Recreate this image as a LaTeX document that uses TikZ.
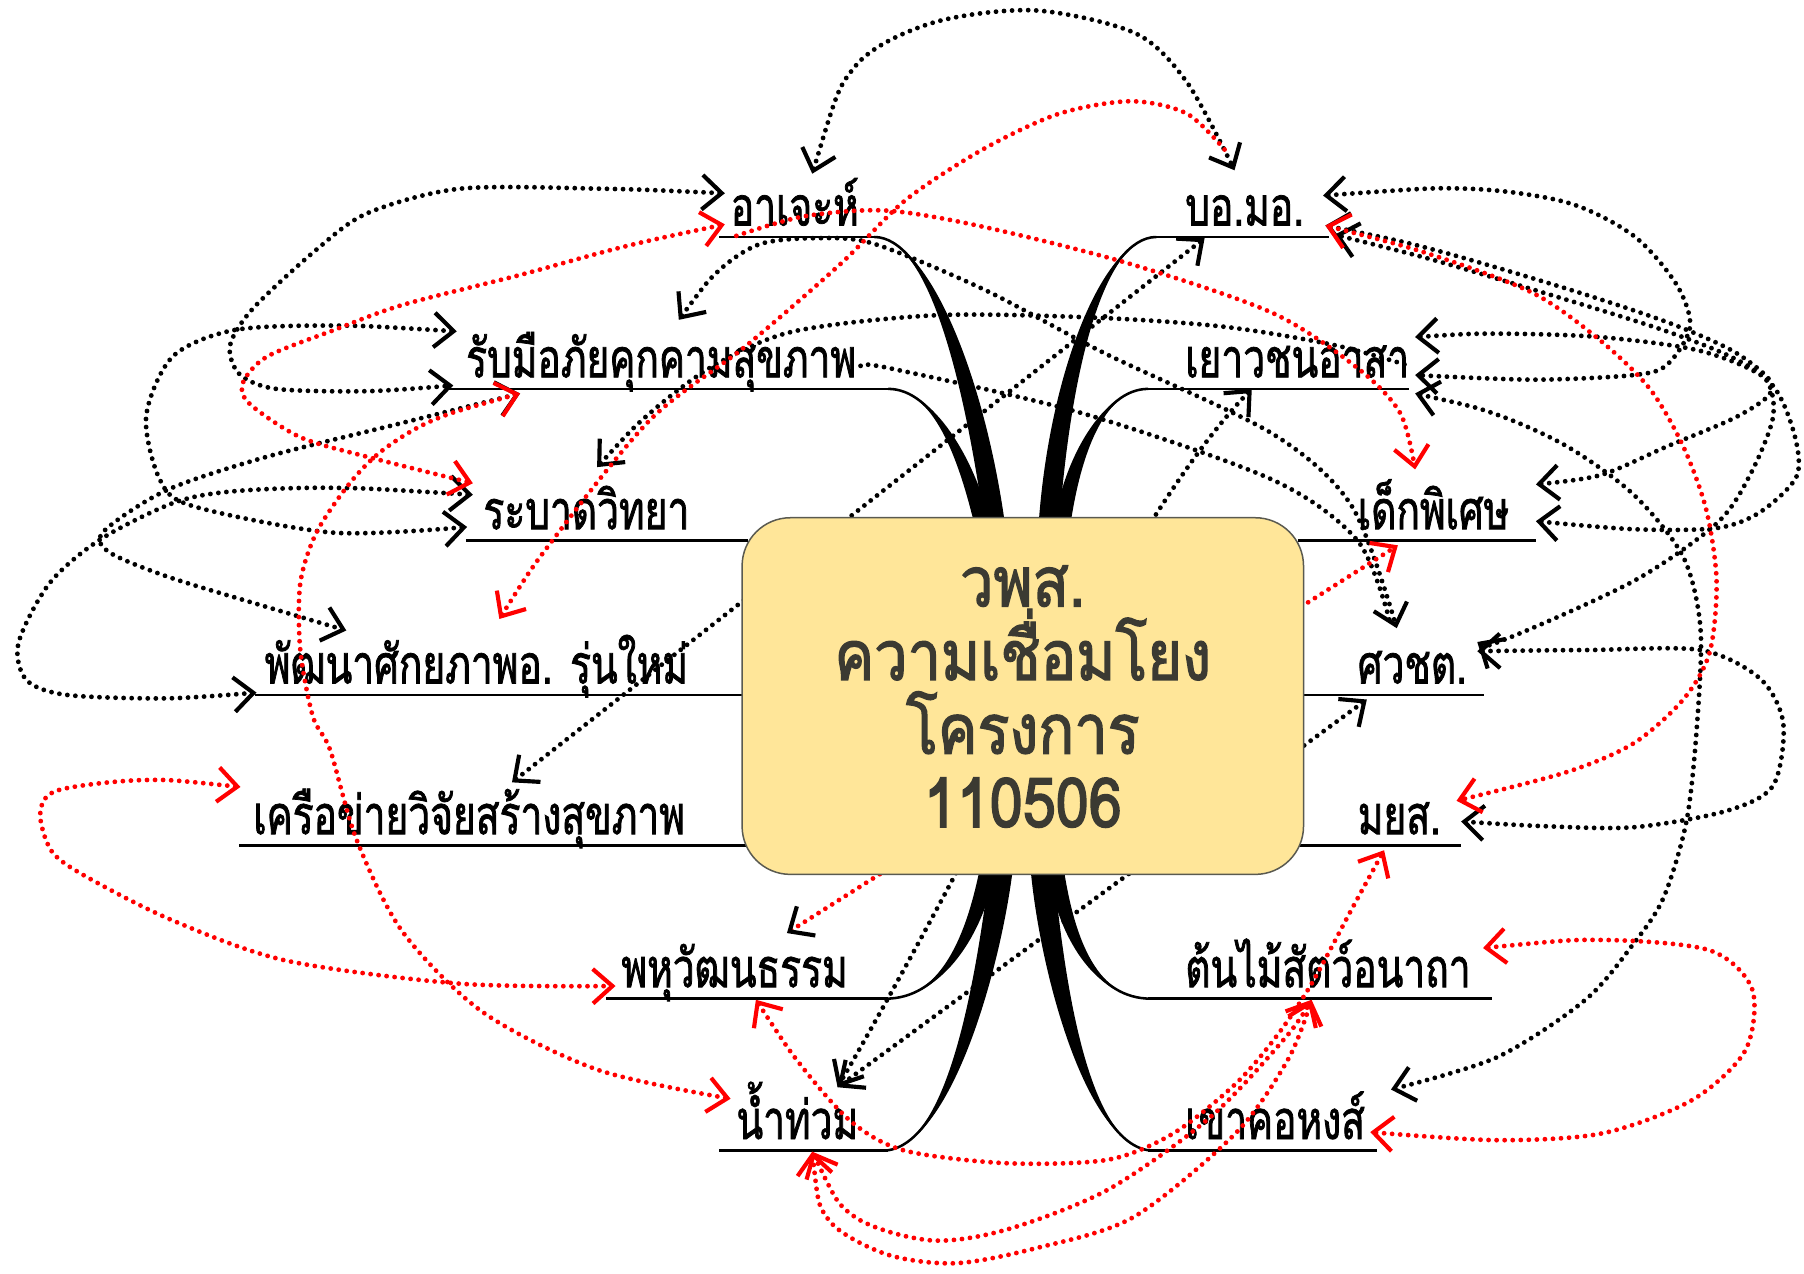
\documentclass[tikz,border=0pt]{standalone}
\usepackage{fontspec}
\usetikzlibrary{arrows.meta,calc}
\newfontfamily\thailab[Script=Thai,FakeStretch=0.72,FakeBold=1.4]{Loma}
\newfontfamily\thaimain[Script=Thai,FakeStretch=0.86,FakeBold=2]{Loma}
\definecolor{boxfill}{HTML}{FFE699}
\definecolor{boxtext}{HTML}{3B3A32}
\definecolor{boxline}{HTML}{5A5A50}
\definecolor{rd}{HTML}{FF0000}
\tikzset{
 lab/.style={anchor=base west, inner sep=0pt, font=\thailab\fontsize{47}{47}\selectfont},
 ctext/.style={anchor=base, inner sep=0pt, text=boxtext, font=\thaimain\fontsize{60}{60}\selectfont},
 ul/.style={line width=2.2pt},
 conn/.style={line width=4.2pt, dash pattern=on 0pt off 7pt, line cap=round},
 bk/.style={conn, black},
 rdc/.style={conn, rd},
 >={Straight Barb[length=17pt,width=30pt,line width=3.6pt]},
}
\newcommand{\branchshape}[5]{%
 \fill[black] #1 .. controls #2 and ($#3+(-#5,0)$) .. ($#4+(-#5,0)$) -- ($#4+(#5,0)$) .. controls ($#3+(#5,0)$) and #2 .. #1 -- cycle;
 \draw[line width=2.2pt] #1 .. controls #2 and #3 .. #4;}
\begin{document}
\begin{tikzpicture}[x=1pt,y=-1pt]
\useasboundingbox[fill=white] (0,0) rectangle (1568,1107);

% ---------- branches and underlines ----------
\branchshape{(760,206)}{(805,206)}{(845,320)}{(864,452)}{9}
\branchshape{(772,338)}{(812,338)}{(840,400)}{(853,452)}{7}
\branchshape{(1005,206)}{(960,206)}{(922,320)}{(912,452)}{9}
\branchshape{(998,338)}{(958,338)}{(932,400)}{(924,452)}{7}
\branchshape{(770,868)}{(815,868)}{(845,820)}{(858,758)}{7}
\branchshape{(770,1000)}{(825,995)}{(858,850)}{(870,758)}{10}
\branchshape{(1000,868)}{(955,868)}{(928,820)}{(918,758)}{7}
\branchshape{(1000,1000)}{(945,995)}{(915,850)}{(906,758)}{10}

\draw[ul] (625,206) -- (762,206);
\draw[ul] (390,338) -- (774,338);
\draw[ul] (405,470) -- (650,470);
\draw[ul] (222,604) -- (650,604);
\draw[ul] (208,735) -- (650,735);
\draw[ul] (527,868) -- (772,868);
\draw[ul] (625,1000) -- (772,1000);
\draw[ul] (1003,206) -- (1155,206);
\draw[ul] (996,338) -- (1225,338);
\draw[ul] (1128,470) -- (1335,470);
\draw[ul] (1128,604) -- (1290,604);
\draw[ul] (1128,735) -- (1270,735);
\draw[ul] (998,868) -- (1297,868);
\draw[ul] (998,1000) -- (1197,1000);

% ---------- labels ----------
\node[lab] (ajeh) at (635,196) {อาเจะห์};
\node[lab] (rabmue) at (405,328) {รับมือภัยคุกคามสุขภาพ};
\node[lab] (rabad) at (420,460) {ระบาดวิทยา};
\node[lab] (pattana) at (230,594) {พัฒนาศักยภาพอ. รุ่นใหม่};
\node[lab] (kruea) at (220,725) {เครือข่ายวิจัยสร้างสุขภาพ};
\node[lab] (pahu) at (540,858) {พหุวัฒนธรรม};
\node[lab] (namtuam) at (640,990) {น้ำท่วม};
\node[lab] (bomo) at (1030,196) {บอ.มอ.};
\node[lab] (yaowa) at (1030,328) {เยาวชนอาสา};
\node[lab] (dek) at (1180,460) {เด็กพิเศษ};
\node[lab] (sawa) at (1180,594) {ศวชต.};
\node[lab] (myos) at (1180,725) {มยส.};
\node[lab] (tonmai) at (1030,858) {ต้นไม้สัตว์อนาถา};
\node[lab] (khao) at (1030,990) {เขาคอหงส์};

% ---------- connector end points ----------
\coordinate (b1a) at (706,151); \coordinate (b1b) at (1073,148);
\coordinate (ajehB) at (630,168); \coordinate (ajehR) at (630,195);
\coordinate (rabA) at (397,288); \coordinate (rabB) at (394,335);
\coordinate (rabC) at (452,342); \coordinate (rabT) at (590,278);
\coordinate (rabE) at (748,318);
\coordinate (rbR) at (411,420); \coordinate (rbA) at (411,430);
\coordinate (rbB) at (406,458); \coordinate (rbT) at (519,406);
\coordinate (ptA) at (301,548); \coordinate (ptB) at (223,602);
\coordinate (ptR) at (434,538);
\coordinate (kwB) at (445,680); \coordinate (kwR) at (209,684);
\coordinate (phB) at (684,811); \coordinate (phR) at (535,857);
\coordinate (phU) at (657,869);
\coordinate (nB) at (728,945); \coordinate (nR) at (635,955);
\coordinate (nU) at (706,1001);
\coordinate (bmA) at (1150,170); \coordinate (bmR) at (1152,196);
\coordinate (bmU) at (1047,207); \coordinate (bmT) at (1067,133);
\coordinate (yA) at (1230,293); \coordinate (yB) at (1230,326);
\coordinate (yC) at (1230,342); \coordinate (yU) at (1088,338);
\coordinate (yE) at (1225,318);
\coordinate (dA) at (1335,421); \coordinate (dB) at (1335,453);
\coordinate (dR) at (1230,408); \coordinate (dU) at (1215,474);
\coordinate (sT) at (1214,546); \coordinate (sA) at (1284,558);
\coordinate (sB) at (1284,566); \coordinate (sU) at (1188,608);
\coordinate (mR) at (1266,696); \coordinate (mB) at (1270,714);
\coordinate (mU) at (1203,739);
\coordinate (tR) at (1289,824); \coordinate (tU) at (1140,869);
\coordinate (kB) at (1209,947); \coordinate (kR) at (1191,984);

% ---------- black connectors ----------
\draw[bk,<->] plot[smooth] coordinates {(b1a) (743,58) (810,20) (899,9) (987,29) (1032,72) (b1b)};
\draw[bk,<->] plot[smooth] coordinates {(ajehB) (521,164) (400,164) (320,185) (275,217) (220,268) (200,300) (208,325) (240,338) (320,340) (rabB)};
\draw[bk,<->] plot[smooth] coordinates {(rabA) (290,283) (203,287) (150,310) (127,362) (139,417) (168,440) (290,463) (rbB)};
\draw[bk,<->] plot[smooth] coordinates {(rbA) (290,424) (203,427) (151,437) (87,469) (43,507) (16,559) (23,591) (58,604) (145,607) (ptB)};
\draw[bk,<->] plot[smooth] coordinates {(rabC) (348,368) (232,397) (145,426) (90,462) (95,480) (145,501) (220,524) (ptA)};
\draw[bk,<->] plot[smooth] coordinates {(rabT) (625,235) (661,212) (710,207) (760,212) (856,252) (960,307) (1106,377) (1175,440) (sT)};
\draw[bk] plot[smooth] coordinates {(rabE) (773,320) (940,359) (1106,417) (1180,470) (1208,540)};
\draw[bk,<-] plot[smooth] coordinates {(rbT) (565,359) (620,318) (690,288) (814,274) (950,276) (1064,284) (1160,300) (yE)};
\draw[bk,<->] (kwB) -- (bmU);
\draw[bk,<->] (yU) .. controls (980,450) and (870,700) .. (nB);
\draw[bk,<->] (sU) -- (nB);
\draw[bk,<->] plot[smooth] coordinates {(bmA) (1275,164) (1362,176) (1420,205) (1457,247) (1469,284) (1449,317) (1420,326) (1333,330) (yB)};
\draw[bk,<->] plot[smooth] coordinates {(bmR) (1246,217) (1362,251) (1449,280) (1506,305) (1538,330) (1536,345) (1506,364) (1449,388) (1391,413) (dA)};
\draw[bk,<->] plot[smooth] coordinates {(yA) (1300,290) (1391,293) (1478,305) (1536,330) (1558,372) (1562,413) (1530,445) (1492,459) (1420,460) (dB)};
\draw[bk,<->] plot[smooth] coordinates {(yC) (1300,360) (1362,388) (1420,430) (1463,484) (1478,546) (1475,630) (1466,713) (1446,780) (1420,820) (1378,869) (1301,919) (kB)};
\draw[bk,<->] plot[smooth] coordinates {(sA) (1310,555) (1420,505) (1492,455) (1521,413) (1541,363) (1535,330) (1500,308) (1440,285) (1350,257) (1246,226) (1160,204)};
\draw[bk,<->] plot[smooth] coordinates {(sB) (1380,565) (1478,565) (1530,590) (1550,629) (1541,683) (1500,705) (1420,719) (1340,718) (mB)};

% ---------- red connectors ----------
\draw[rdc,<-] plot[smooth] coordinates {(ptR) (480,470) (565,365) (648,301) (731,229) (787,174) (854,130) (920,99) (983,88) (1032,99) (bmT)};
\draw[rdc,->] plot[smooth] coordinates {(640,205) (699,188) (770,183) (854,197) (981,229) (1106,272) (1180,320) (1217,359) (dR)};
\draw[rdc,<->] plot[smooth] coordinates {(ajehR) (540,215) (452,239) (350,265) (290,287) (232,310) (211,333) (217,351) (261,380) (319,397) (rbR)};
\draw[rdc,<->] plot[smooth] coordinates {(rabC) (377,365) (333,391) (304,420) (275,463) (261,507) (261,565) (272,623) (287,652) (310,730) (350,810) (420,880) (520,930) (nR)};
\draw[rdc,<->] plot[smooth] coordinates {(kwR) (125,678) (50,687) (35,707) (45,740) (75,762) (150,800) (249,835) (400,855) (phR)};
\draw[rdc,<->] plot[smooth] coordinates {(phU) (697,927) (740,975) (786,1000) (874,1011) (963,1008) (1020,985) (1074,942) (1110,900) (1140,855) (1175,790) (mU)};
\draw[rdc,<->] plot[smooth] coordinates {(nU) (742,1057) (808,1078) (874,1069) (963,1034) (1052,971) (1118,901) (tU)};
\draw[rdc,<->] plot[smooth] coordinates {(nU) (720,1060) (770,1090) (830,1098) (900,1085) (985,1058) (1074,985) (1120,920) (tU)};
\draw[rdc,<->] plot[smooth] coordinates {(tR) (1393,817) (1486,826) (1523,860) (1517,913) (1471,956) (1393,985) (1301,991) (kR)};
\draw[rdc,<->] plot[smooth] coordinates {(bmR) (1246,222) (1333,255) (1391,296) (1434,338) (1463,388) (1483,443) (1492,505) (1486,567) (1463,608) (1420,646) (1362,671) (mR)};
\draw[rdc,arrows={Straight Barb[length=17pt,width=30pt,line width=3.6pt,color=black]-Straight Barb[length=17pt,width=30pt,line width=3.6pt]}] (phB) -- (dU);

% ---------- central box ----------
\node[draw=boxline, fill=boxfill, rounded corners=42pt, line width=1.3pt,
      minimum width=488pt, minimum height=310pt, inner sep=0pt] (center) at (889,605) {};
\node[ctext] (c1) at (889,527) {วพส.};
\node[ctext] (c2) at (889,591) {ความเชื่อมโยง};
\node[ctext] (c3) at (889,655) {โครงการ};
\node[ctext] (c4) at (889,719) {110506};
\end{tikzpicture}
\end{document}
